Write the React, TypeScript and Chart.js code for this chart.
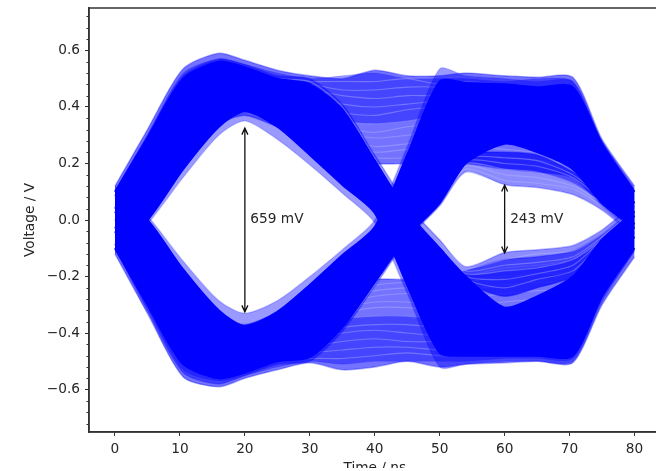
import React, { useEffect, useRef } from "react";
import { Chart, registerables } from "chart.js";

Chart.register(...registerables);

const timeNs = [0, 5, 10.5, 16, 20, 25, 30, 35, 40, 45, 50, 54, 60, 65, 70.5, 75, 80];
const xTicks = [0, 10, 20, 30, 40, 50, 60, 70, 80];
const yTicks = [-0.6, -0.4, -0.2, 0, 0.2, 0.4, 0.6];
const yMinorTicks = [-0.72, -0.68, -0.64, -0.56, -0.52, -0.48, -0.44, -0.36, -0.32, -0.28, -0.24, -0.16, -0.12, -0.08, -0.04, 0.04, 0.08, 0.12, 0.16, 0.24, 0.28, 0.32, 0.36, 0.44, 0.48, 0.52, 0.56, 0.64, 0.68, 0.72];

const arrowTimes = [20, 60];
const arrowTops = [0.325, 0.124];
const arrowBottoms = [-0.325, -0.117];
const arrowLabels = ["659 mV", "243 mV"];

// Traces that stay high through both eyes
const highHighTraces = [
  [0.12, 0.32, 0.535, 0.59, 0.565, 0.53, 0.51, 0.5, 0.53, 0.51, 0.51, 0.52, 0.51, 0.505, 0.505, 0.285, 0.12],
  [0.1, 0.3, 0.52, 0.57, 0.55, 0.52, 0.5, 0.51, 0.52, 0.5, 0.5, 0.5, 0.49, 0.5, 0.49, 0.27, 0.1],
  [0.08, 0.28, 0.5, 0.56, 0.53, 0.5, 0.49, 0.49, 0.49, 0.5, 0.48, 0.49, 0.48, 0.47, 0.47, 0.25, 0.09],
  [0.06, 0.25, 0.49, 0.54, 0.52, 0.49, 0.48, 0.46, 0.46, 0.47, 0.47, 0.46, 0.46, 0.45, 0.45, 0.23, 0.08],
  [0.03, 0.22, 0.46, 0.52, 0.5, 0.47, 0.46, 0.44, 0.43, 0.44, 0.44, 0.45, 0.43, 0.44, 0.42, 0.21, 0.06],
  [0.01, 0.2, 0.44, 0.5, 0.48, 0.46, 0.44, 0.41, 0.4, 0.41, 0.42, 0.41, 0.41, 0.41, 0.4, 0.19, 0.05],
  [-0.02, 0.17, 0.42, 0.48, 0.46, 0.44, 0.42, 0.38, 0.37, 0.39, 0.4, 0.39, 0.38, 0.38, 0.37, 0.17, 0.03],
  [-0.04, 0.14, 0.4, 0.47, 0.45, 0.42, 0.4, 0.35, 0.34, 0.35, 0.37, 0.37, 0.36, 0.35, 0.34, 0.15, 0.02],
  [-0.05, 0.12, 0.38, 0.45, 0.44, 0.41, 0.38, 0.33, 0.31, 0.33, 0.34, 0.34, 0.33, 0.33, 0.31, 0.13, 0.0],
  [-0.07, 0.09, 0.35, 0.43, 0.43, 0.39, 0.36, 0.31, 0.29, 0.3, 0.31, 0.32, 0.3, 0.3, 0.28, 0.11, -0.01],
  [-0.08, 0.07, 0.33, 0.41, 0.41, 0.38, 0.34, 0.29, 0.26, 0.27, 0.29, 0.29, 0.28, 0.27, 0.25, 0.09, -0.02],
  [-0.09, 0.05, 0.3, 0.39, 0.4, 0.36, 0.32, 0.27, 0.24, 0.25, 0.26, 0.26, 0.25, 0.24, 0.22, 0.07, -0.03],
  [-0.1, 0.03, 0.27, 0.37, 0.38, 0.34, 0.3, 0.25, 0.22, 0.22, 0.23, 0.23, 0.22, 0.21, 0.19, 0.06, -0.04],
  [-0.11, 0.01, 0.25, 0.34, 0.37, 0.33, 0.29, 0.24, 0.2, 0.2, 0.2, 0.2, 0.18, 0.17, 0.15, 0.05, -0.05],
];

// Traces that stay low through both eyes
const lowLowTraces = [
  [-0.12, -0.33, -0.555, -0.59, -0.56, -0.53, -0.505, -0.53, -0.52, -0.5, -0.52, -0.51, -0.505, -0.5, -0.505, -0.3, -0.13],
  [-0.1, -0.31, -0.53, -0.57, -0.55, -0.52, -0.5, -0.51, -0.5, -0.5, -0.5, -0.5, -0.49, -0.49, -0.49, -0.28, -0.11],
  [-0.08, -0.29, -0.51, -0.56, -0.53, -0.5, -0.49, -0.49, -0.48, -0.47, -0.48, -0.48, -0.47, -0.47, -0.47, -0.26, -0.09],
  [-0.06, -0.26, -0.49, -0.54, -0.52, -0.49, -0.47, -0.46, -0.45, -0.45, -0.46, -0.46, -0.44, -0.44, -0.44, -0.23, -0.08],
  [-0.03, -0.23, -0.47, -0.52, -0.5, -0.47, -0.45, -0.43, -0.42, -0.43, -0.43, -0.43, -0.41, -0.41, -0.41, -0.21, -0.06],
  [-0.01, -0.2, -0.45, -0.5, -0.48, -0.46, -0.43, -0.4, -0.39, -0.4, -0.41, -0.41, -0.38, -0.38, -0.38, -0.19, -0.05],
  [0.02, -0.17, -0.42, -0.48, -0.46, -0.44, -0.41, -0.38, -0.37, -0.37, -0.38, -0.37, -0.35, -0.35, -0.34, -0.17, -0.03],
  [0.04, -0.14, -0.4, -0.47, -0.45, -0.42, -0.39, -0.35, -0.34, -0.34, -0.35, -0.34, -0.32, -0.32, -0.31, -0.15, -0.02],
  [0.05, -0.12, -0.38, -0.45, -0.44, -0.41, -0.37, -0.33, -0.31, -0.31, -0.32, -0.31, -0.29, -0.28, -0.27, -0.13, 0.0],
  [0.07, -0.09, -0.35, -0.43, -0.43, -0.39, -0.35, -0.31, -0.29, -0.29, -0.3, -0.28, -0.26, -0.25, -0.24, -0.11, 0.01],
  [0.08, -0.07, -0.33, -0.41, -0.41, -0.38, -0.33, -0.29, -0.27, -0.26, -0.27, -0.25, -0.23, -0.22, -0.21, -0.09, 0.02],
  [0.09, -0.05, -0.3, -0.39, -0.4, -0.36, -0.31, -0.27, -0.25, -0.24, -0.24, -0.22, -0.2, -0.19, -0.18, -0.07, 0.03],
  [0.1, -0.03, -0.27, -0.37, -0.38, -0.34, -0.3, -0.25, -0.23, -0.22, -0.22, -0.2, -0.17, -0.16, -0.14, -0.06, 0.04],
  [0.11, -0.01, -0.25, -0.34, -0.37, -0.33, -0.29, -0.24, -0.21, -0.21, -0.2, -0.18, -0.14, -0.13, -0.11, -0.05, 0.05],
];

// Outermost inner-eye edge of each transition family
const fallingInnerEdge = [-0.12, -0.015, 0.15, 0.3, 0.35, 0.285, 0.195, 0.095, -0.01, -0.26, -0.52, -0.51, -0.5, -0.5, -0.5, -0.29, -0.11];
const risingInnerEdge = [0.12, 0.015, -0.145, -0.285, -0.33, -0.285, -0.2, -0.105, 0.0, 0.26, 0.535, 0.51, 0.5, 0.49, 0.49, 0.28, 0.11];

// Thin traces between the falling band and the lower edge of the second eye
const fallingEdgeTraces = [
  [0.1, 0.3, 0.51, 0.57, 0.55, 0.51, 0.5, 0.41, 0.23, 0.055, -0.07, -0.165, -0.115, -0.105, -0.09, -0.035, 0.06],
  [0.08, 0.27, 0.5, 0.55, 0.53, 0.5, 0.49, 0.4, 0.22, 0.04, -0.08, -0.17, -0.14, -0.12, -0.11, -0.05, 0.05],
  [0.06, 0.25, 0.48, 0.54, 0.52, 0.49, 0.47, 0.39, 0.21, 0.03, -0.09, -0.18, -0.16, -0.15, -0.13, -0.06, 0.04],
  [0.05, 0.23, 0.46, 0.53, 0.51, 0.48, 0.45, 0.38, 0.2, 0.02, -0.1, -0.19, -0.18, -0.17, -0.14, -0.07, 0.03],
  [0.03, 0.21, 0.45, 0.51, 0.5, 0.47, 0.44, 0.37, 0.19, 0.01, -0.11, -0.2, -0.21, -0.19, -0.16, -0.07, 0.03],
  [0.02, 0.2, 0.44, 0.5, 0.49, 0.46, 0.43, 0.36, 0.18, 0.0, -0.12, -0.21, -0.24, -0.21, -0.18, -0.08, 0.02],
  [0.0, 0.18, 0.42, 0.49, 0.48, 0.45, 0.42, 0.35, 0.17, -0.01, -0.13, -0.22, -0.27, -0.24, -0.2, -0.09, 0.01],
];

// Thin traces between the rising band and the upper edge of the second eye
const risingEdgeTraces = [
  [-0.1, -0.32, -0.54, -0.58, -0.55, -0.51, -0.5, -0.395, -0.235, -0.07, 0.05, 0.17, 0.125, 0.115, 0.09, 0.035, -0.06],
  [-0.08, -0.28, -0.5, -0.55, -0.53, -0.49, -0.48, -0.38, -0.23, -0.05, 0.07, 0.18, 0.14, 0.13, 0.11, 0.05, -0.05],
  [-0.06, -0.26, -0.48, -0.54, -0.52, -0.48, -0.47, -0.37, -0.22, -0.05, 0.08, 0.19, 0.16, 0.15, 0.12, 0.06, -0.04],
  [-0.05, -0.24, -0.46, -0.53, -0.51, -0.47, -0.45, -0.36, -0.21, -0.04, 0.09, 0.2, 0.18, 0.17, 0.13, 0.06, -0.03],
  [-0.03, -0.22, -0.45, -0.51, -0.5, -0.46, -0.44, -0.35, -0.2, -0.03, 0.1, 0.21, 0.2, 0.19, 0.15, 0.07, -0.03],
  [-0.02, -0.2, -0.44, -0.5, -0.49, -0.45, -0.43, -0.34, -0.19, -0.02, 0.11, 0.22, 0.22, 0.21, 0.16, 0.08, -0.02],
  [0.0, -0.18, -0.42, -0.49, -0.48, -0.44, -0.42, -0.33, -0.18, -0.01, 0.12, 0.23, 0.24, 0.23, 0.17, 0.09, -0.01],
];

// Dense body of the high-then-low traces
const highLowBody = [
  [0.1, 0.29, 0.5, 0.56, 0.54, 0.5, 0.48, 0.39, 0.21, 0.03, -0.1, -0.2, -0.31, -0.27, -0.2, -0.07, 0.03],
  [0.04, 0.19, 0.41, 0.5, 0.49, 0.45, 0.39, 0.3, 0.15, -0.05, -0.22, -0.29, -0.37, -0.34, -0.29, -0.14, -0.01],
  [-0.03, 0.1, 0.33, 0.43, 0.45, 0.4, 0.31, 0.2, 0.08, -0.14, -0.35, -0.39, -0.43, -0.41, -0.39, -0.2, -0.06],
  [-0.09, 0.0, 0.18, 0.33, 0.385, 0.33, 0.23, 0.125, 0.025, -0.23, -0.47, -0.48, -0.48, -0.48, -0.48, -0.27, -0.1],
];

// Dense body of the low-then-high traces
const lowHighBody = [
  [-0.1, -0.3, -0.51, -0.56, -0.54, -0.5, -0.485, -0.38, -0.22, -0.06, 0.06, 0.2, 0.27, 0.24, 0.18, 0.06, -0.03],
  [-0.04, -0.2, -0.42, -0.5, -0.49, -0.45, -0.4, -0.29, -0.15, 0.03, 0.2, 0.28, 0.34, 0.32, 0.28, 0.13, 0.01],
  [0.03, -0.1, -0.33, -0.43, -0.45, -0.4, -0.31, -0.2, -0.08, 0.13, 0.34, 0.38, 0.41, 0.4, 0.38, 0.2, 0.06],
  [0.09, 0.0, -0.175, -0.32, -0.375, -0.325, -0.23, -0.125, -0.025, 0.23, 0.49, 0.485, 0.48, 0.47, 0.47, 0.27, 0.1],
];

const FONT = "'DejaVu Sans'";
const INK = "#262626";
const STREAK = "rgba(185,185,255,0.4)";

function traceDataset(values: number[], color: string, width: number, drawOrder: number, fillTo?: number, fillColor?: string) {
  return {
    data: values.map((y, i) => ({ x: timeNs[i], y })),
    borderColor: color,
    borderWidth: width,
    pointRadius: 0,
    tension: 0.25,
    order: drawOrder,
    borderCapStyle: "butt" as const,
    borderJoinStyle: "round" as const,
    fill: fillTo === undefined ? false : fillTo,
    backgroundColor: fillColor ?? "transparent",
  };
}

function buildDatasets() {
  const out: any[] = [];
  const group = (rows: number[][], color: string, width: number, fillColor?: string) => {
    const start = out.length;
    rows.forEach((r, i) => {
      const fillTo = fillColor && i === 0 ? start + rows.length - 1 : undefined;
      out.push(traceDataset(r, color, width, 1000 - out.length, fillTo, fillColor));
    });
  };
  group([highHighTraces[0], highHighTraces[13]], "rgba(0,0,255,0.3)", 1.5, "rgba(0,0,255,0.55)");
  group([lowLowTraces[0], lowLowTraces[13]], "rgba(0,0,255,0.3)", 1.5, "rgba(0,0,255,0.55)");
  group([highHighTraces[1], highHighTraces[7]], "rgba(0,0,255,0.15)", 1, "rgba(0,0,255,0.4)");
  group([lowLowTraces[1], lowLowTraces[7]], "rgba(0,0,255,0.15)", 1, "rgba(0,0,255,0.4)");
  group(highHighTraces.slice(2, 13), STREAK, 1.1);
  group(lowLowTraces.slice(2, 13), STREAK, 1.1);
  group([fallingEdgeTraces[0], fallingEdgeTraces[6]], "rgba(0,0,255,0.25)", 1.5, "rgba(0,0,255,0.45)");
  group([risingEdgeTraces[0], risingEdgeTraces[6]], "rgba(0,0,255,0.25)", 1.5, "rgba(0,0,255,0.45)");
  group([fallingEdgeTraces[3], fallingEdgeTraces[6]], "rgba(0,0,255,0.2)", 1, "rgba(0,0,255,0.45)");
  group([risingEdgeTraces[3], risingEdgeTraces[6]], "rgba(0,0,255,0.2)", 1, "rgba(0,0,255,0.45)");
  group(fallingEdgeTraces.slice(1, 6), STREAK, 1.1);
  group(risingEdgeTraces.slice(1, 6), STREAK, 1.1);
  group([fallingInnerEdge, highLowBody[3]], "rgba(0,0,255,0.15)", 1.5, "rgba(0,0,255,0.4)");
  group([risingInnerEdge, lowHighBody[3]], "rgba(0,0,255,0.15)", 1.5, "rgba(0,0,255,0.4)");
  group(highLowBody, "#0000ff", 2, "#0000ff");
  group(lowHighBody, "#0000ff", 2, "#0000ff");
  return out;
}

const decorations = {
  id: "decorations",
  afterDatasetsDraw(chart: any) {
    const { ctx, chartArea, scales } = chart;
    const { x, y } = scales;
    ctx.save();
    ctx.strokeStyle = "#333";
    ctx.lineWidth = 1.5;
    ctx.strokeRect(chartArea.left, chartArea.top, chartArea.right - chartArea.left, chartArea.bottom - chartArea.top);
    ctx.lineWidth = 1;
    yMinorTicks.forEach((v) => {
      const py = Math.round(y.getPixelForValue(v)) + 0.5;
      ctx.beginPath();
      ctx.moveTo(chartArea.left, py);
      ctx.lineTo(chartArea.left - 2.5, py);
      ctx.stroke();
    });
    ctx.strokeStyle = "#111";
    ctx.fillStyle = INK;
    ctx.lineWidth = 1.3;
    ctx.font = `13.7px ${FONT}`;
    ctx.textBaseline = "middle";
    arrowTimes.forEach((t, i) => {
      const px = x.getPixelForValue(t);
      const top = y.getPixelForValue(arrowTops[i]);
      const bottom = y.getPixelForValue(arrowBottoms[i]);
      ctx.beginPath();
      ctx.moveTo(px, top);
      ctx.lineTo(px, bottom);
      ctx.moveTo(px - 3, top + 6.5);
      ctx.lineTo(px, top);
      ctx.lineTo(px + 3, top + 6.5);
      ctx.moveTo(px - 3, bottom - 6.5);
      ctx.lineTo(px, bottom);
      ctx.lineTo(px + 3, bottom - 6.5);
      ctx.stroke();
      ctx.fillText(arrowLabels[i], px + 5.5, y.getPixelForValue(0) - 1);
    });
    ctx.restore();
  },
};

export default function App() {
  const ref = useRef<HTMLCanvasElement>(null);
  useEffect(() => {
    const chart = new Chart(ref.current!, {
      type: "line",
      data: { datasets: buildDatasets() },
      plugins: [decorations],
      options: {
        animation: false,
        responsive: false,
        layout: { padding: { top: 8, left: 22.5, right: 39.5, bottom: 43 } },
        plugins: { legend: { display: false }, tooltip: { enabled: false } },
        scales: {
          x: {
            type: "linear",
            min: -4,
            max: 84,
            afterFit: (s: any) => { s.height = 45; s.paddingLeft = 0; s.paddingRight = 0; },
            afterBuildTicks: (s: any) => { s.ticks = xTicks.map((value) => ({ value })); },
            grid: { drawOnChartArea: false, tickLength: 4, tickColor: "#333", tickWidth: 1 },
            border: { color: "#333", width: 1.5 },
            ticks: { color: INK, font: { family: FONT, size: 13.7 }, padding: 5, maxRotation: 0, autoSkip: false },
            title: { display: true, text: "Time / ns", color: INK, font: { family: FONT, size: 13.7 }, padding: 0 },
          },
          y: {
            min: -0.75,
            max: 0.75,
            afterFit: (s: any) => { s.width = 66.5; s.paddingTop = 0; s.paddingBottom = 0; },
            afterBuildTicks: (s: any) => { s.ticks = yTicks.map((value) => ({ value })); },
            grid: { drawOnChartArea: false, tickLength: 4, tickColor: "#333", tickWidth: 1 },
            border: { color: "#333", width: 1.5 },
            ticks: {
              color: INK,
              font: { family: FONT, size: 13.7 },
              padding: 5,
              autoSkip: false,
              callback: (v: any) => Number(v).toFixed(1).replace("-", "\u2212"),
            },
            title: { display: true, text: "Voltage / V", color: INK, font: { family: FONT, size: 13.7 }, padding: 0 },
          },
        },
      } as any,
    });
    return () => chart.destroy();
  }, []);
  return (
    <div style={{ position: "fixed", left: 0, top: 0, width: 656, height: 468, overflow: "hidden", background: "#fff" }}>
      <canvas ref={ref} width={700} height={520} style={{ display: "block", filter: "blur(0.4px)" }} />
    </div>
  );
}
